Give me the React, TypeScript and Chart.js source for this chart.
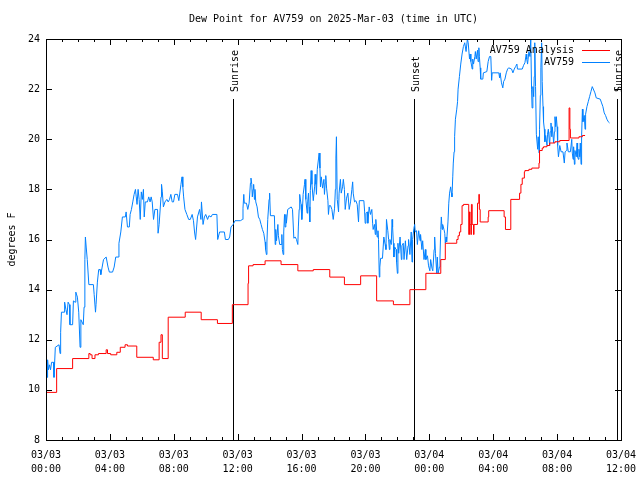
import React, { useEffect, useRef } from 'react';
import { Chart, registerables } from 'chart.js';

Chart.register(...registerables);

const TITLE = 'Dew Point for AV759 on 2025-Mar-03 (time in UTC)';
const Y_TITLE = 'degrees F';
const FONT = '"DejaVu Sans Mono", "Liberation Mono", monospace';

// x axis: minutes since 2025-03-03 00:00 UTC
const X_TICK_MINUTES = [0, 240, 480, 720, 960, 1200, 1440, 1680, 1920, 2160];
const X_TICK_DATES = ['03/03', '03/03', '03/03', '03/03', '03/03', '03/03', '03/04', '03/04', '03/04', '03/04'];
const X_TICK_TIMES = ['00:00', '04:00', '08:00', '12:00', '16:00', '20:00', '00:00', '04:00', '08:00', '12:00'];
const Y_TICKS = [8, 10, 12, 14, 16, 18, 20, 22, 24];

const SUN_EVENT_MINUTES = [702, 1382, 2144];
const SUN_EVENT_LABELS = ['Sunrise', 'Sunset', 'Sunrise'];

const SERIES_NAMES = ['AV759 Analysis', 'AV759'];
const SERIES_COLORS = ['#ff0000', '#0080ff'];

// "AV759 Analysis" (stepped): minute at which each level starts, and its value
const ANALYSIS_MIN = [
  0, 40, 100, 161, 166, 173, 184, 197, 226, 231, 243, 266, 279, 297, 306, 341, 403, 425, 432, 437,
  459, 523, 583, 644, 700, 759, 761, 778, 823, 883, 946, 1004, 1066, 1121, 1182, 1242, 1305, 1367, 1427, 1483,
  1500, 1543, 1548, 1553, 1558, 1563, 1568, 1588, 1591, 1593, 1596, 1598, 1601, 1606, 1608, 1621, 1626, 1628, 1631, 1661,
  1663, 1721, 1726, 1746, 1779, 1784, 1789, 1797, 1799, 1814, 1825, 1852, 1854, 1864, 1869, 1882, 1892, 1912, 1930, 1965,
  1968, 1970, 2002, 2015, 2025,
];
const ANALYSIS_VAL = [
  9.9, 10.85, 11.25, 11.45, 11.4, 11.25, 11.4, 11.45, 11.6, 11.45, 11.4, 11.5, 11.7, 11.8, 11.75, 11.3, 11.2, 11.9, 12.2, 11.25,
  12.9, 13.1, 12.8, 12.65, 13.4, 14.25, 14.95, 15.0, 15.15, 15.0, 14.75, 14.8, 14.5, 14.2, 14.55, 13.55, 13.4, 14.0, 14.65, 15.2,
  15.85, 16.0, 16.15, 16.3, 16.6, 17.35, 17.4, 16.2, 17.1, 16.6, 16.2, 17.4, 16.6, 16.2, 16.6, 17.45, 17.8, 17.2, 16.7, 16.9,
  17.15, 16.9, 16.4, 17.6, 17.85, 18.2, 18.45, 18.7, 18.75, 18.8, 18.85, 19.05, 19.55, 19.65, 19.7, 19.75, 19.85, 19.9, 19.95, 21.25,
  20.4, 20.05, 20.1, 20.15, 20.15,
];

// "AV759" observations: minute, value
const OBS_MIN = [
  0, 4, 6, 9, 13, 17, 21, 28, 30, 35, 49, 53, 55, 58, 68, 70, 75, 79, 83, 88,
  90, 100, 103, 109, 112, 118, 123, 128, 131, 140, 143, 146, 148, 151, 155, 161, 178, 181, 186, 188,
  193, 198, 203, 206, 211, 216, 226, 233, 238, 250, 256, 262, 271, 274, 281, 287, 298, 301, 306, 313,
  316, 321, 326, 331, 336, 339, 342, 346, 350, 354, 358, 362, 366,
  369, 373, 381, 386, 391, 395, 399, 404, 409, 419, 421, 425, 432, 434, 437, 441, 447, 454, 459, 464,
  469, 474, 479, 484, 494, 499, 507, 511, 514, 517, 522, 529, 536, 542, 549, 554, 558, 562, 569, 577,
  582, 584, 590, 595, 600, 607, 612, 620, 625, 642, 645, 652, 670, 674, 685, 690, 695, 703, 710, 730,
  738, 740, 743, 745, 753, 758, 763, 768, 770, 773, 775, 778, 780, 783, 785, 788, 793, 798, 803, 808,
  813, 818, 823, 825, 828, 830, 833, 838, 840, 843, 858, 861, 863, 866, 871, 873, 878, 883, 886, 888,
  891, 893, 896, 898, 901, 903, 908, 921, 926, 931, 936, 941, 946, 948, 951, 953, 958, 961, 963, 966,
  971, 973, 976, 981, 983, 986, 988, 991, 993, 996, 999, 1004, 1009, 1011, 1014, 1016, 1019, 1024, 1026, 1029,
  1031, 1034, 1039, 1044, 1046, 1049, 1051, 1054, 1059, 1061, 1064, 1069, 1074, 1079, 1084, 1087, 1089, 1091,
  1094, 1099, 1101, 1106, 1109, 1114, 1117, 1121, 1124, 1129, 1134, 1139, 1144, 1149, 1152, 1154, 1159, 1164, 1169, 1174,
  1177, 1194, 1197, 1199, 1202, 1207, 1209, 1214, 1219, 1224, 1227, 1229, 1234, 1237, 1239, 1244, 1247, 1249, 1252, 1254,
  1257, 1264, 1269, 1274, 1277, 1279, 1284, 1287, 1290, 1292, 1297, 1300, 1302, 1305, 1307, 1310, 1315, 1317, 1320, 1322,
  1325, 1330, 1335, 1337, 1342, 1345, 1350, 1355, 1360, 1362, 1367, 1372, 1375, 1377, 1382, 1385, 1387, 1392, 1395, 1400,
  1405, 1407, 1412, 1415, 1420, 1425, 1427, 1433, 1437, 1442, 1445, 1450,
  1453, 1458, 1460, 1463, 1468, 1470, 1473, 1478, 1480, 1483, 1485, 1488, 1490, 1495, 1498, 1500, 1503, 1505, 1510, 1513,
  1516, 1520, 1523, 1525, 1528, 1530, 1533, 1535, 1538, 1543, 1546, 1548, 1553, 1558, 1563, 1568, 1573, 1578, 1583, 1586,
  1591, 1593, 1596, 1601, 1603, 1606, 1611, 1613, 1616, 1621, 1623, 1626, 1628, 1631, 1633, 1641, 1643, 1656, 1661, 1666,
  1671, 1674, 1676, 1701, 1704, 1706, 1711, 1716, 1719, 1724, 1729, 1734, 1738, 1749, 1754, 1759, 1764, 1769, 1771, 1789,
  1794, 1799, 1804, 1806,
  1809, 1814, 1818, 1821, 1824, 1826, 1829, 1832, 1834, 1836, 1839, 1842, 1847, 1849, 1852, 1854, 1857, 1859, 1862, 1864,
  1867, 1869, 1872, 1874, 1877, 1882, 1884, 1887, 1892, 1894, 1897, 1900, 1902, 1907, 1910, 1912, 1915, 1917, 1920, 1922,
  1925, 1930, 1935, 1942, 1947, 1950, 1955, 1957, 1960, 1962, 1970, 1975, 1977, 1980, 1982, 1985, 1987, 1992, 1995, 1997,
  2000, 2002, 2005, 2007, 2010, 2012, 2015, 2017, 2020, 2022, 2025, 2027, 2032, 2037, 2042, 2047, 2052, 2062, 2067, 2082,
  2087, 2092, 2097, 2102, 2107, 2112, 2117,
];
const OBS_VAL = [
  11.4, 10.5, 11.2, 10.8, 11.0, 10.8, 11.1, 11.1, 10.5, 11.7, 11.8, 11.45, 12.3, 13.1, 13.1, 13.5, 13.2, 13.0, 13.5, 13.4,
  12.6, 12.6, 13.55, 13.5, 13.9, 13.7, 13.1, 11.7, 12.8, 12.6, 13.3, 15.2, 16.1, 15.7, 15.2, 14.2, 14.2, 13.8, 13.1, 13.4,
  14.3, 14.8, 14.8, 14.6, 14.9, 15.2, 15.3, 14.9, 14.7, 14.7, 14.9, 15.3, 15.3, 15.85, 16.3, 16.9, 16.9, 17.1, 16.5, 16.5,
  17.0, 17.2, 17.5, 17.8, 18.0, 17.7, 17.4, 18.0, 17.6, 16.8, 17.9, 17.6, 18.0,
  16.9, 17.5, 17.5, 17.7, 17.5, 17.7, 17.5, 16.8, 17.2, 17.2, 16.25, 16.6, 17.7, 18.2, 17.9, 17.3, 17.5, 17.6, 17.5, 17.6,
  17.8, 17.5, 17.5, 17.8, 17.8, 17.55, 18.2, 18.5, 18.1, 17.7, 17.2, 17.0, 16.8, 16.8, 17.0, 16.75, 16.3, 16.0, 16.9, 17.2,
  16.8, 17.5, 16.6, 16.9, 17.0, 16.8, 16.95, 16.9, 17.0, 17.0, 16.0, 16.3, 16.3, 16.0, 16.0, 16.1, 16.5, 16.6, 16.75, 16.75,
  16.8, 17.25, 17.8, 17.45, 17.45, 17.2, 17.45, 18.25, 18.45, 18.2, 17.7, 18.0, 18.2, 17.6, 18.0, 17.5, 17.3, 16.9, 16.8, 16.6,
  16.4, 16.25, 15.9, 15.6, 15.4, 15.9, 16.8, 17.6, 17.85, 16.95, 16.95, 15.8, 16.4, 15.95, 16.6, 16.15, 15.8, 15.8, 16.2, 15.6,
  15.4, 16.3, 17.0, 16.5, 17.0, 16.65, 17.2, 17.3, 17.2, 16.05, 16.1, 16.0, 15.8, 16.5, 17.2, 17.8, 17.4, 16.8, 17.1, 17.8,
  18.2, 18.4, 17.6, 17.05, 17.5, 17.85, 17.3, 16.7, 17.95, 18.75, 18.2, 17.55, 18.1, 18.6, 18.2, 17.8, 18.8, 19.25, 19.45, 18.85,
  18.1, 18.5, 18.05, 18.4, 17.8, 18.25, 18.55, 18.05, 17.55, 17.0, 17.35, 17.35, 17.2, 16.8, 17.25, 18.0, 19.25, 20.1,
  17.6, 17.1, 17.85, 18.4, 17.85, 18.1, 18.4, 18.0, 17.2, 17.65, 17.85, 17.2, 17.5, 18.0, 18.3, 17.85, 17.5, 17.55, 17.4, 16.7,
  17.55, 17.55, 17.1, 16.65, 17.05, 17.1, 16.65, 17.3, 17.0, 17.2, 16.65, 16.4, 16.6, 16.2, 16.8, 16.1, 16.35, 16.0, 14.5, 14.9,
  15.25, 15.25, 16.1, 15.8, 15.6, 16.8, 16.35, 16.0, 15.6, 16.0, 15.8, 16.8, 16.5, 15.85, 15.3, 15.7, 15.6, 15.1, 14.65, 15.85,
  15.45, 16.1, 15.2, 15.75, 15.85, 15.2, 15.95, 15.2, 15.75, 16.0, 15.4, 16.3, 15.1, 16.0, 16.45, 16.6, 16.3, 16.35, 15.8, 16.35,
  15.95, 16.2, 15.6, 15.95, 15.2, 15.6, 15.2, 15.35, 14.95, 14.75, 15.2, 14.85,
  14.75, 15.6, 16.1, 15.45, 14.65, 15.3, 14.65, 14.9, 15.3, 16.4, 16.9, 16.4, 16.6, 16.4, 16.25, 15.85, 16.1, 15.9, 16.7, 17.45,
  17.85, 18.1, 17.85, 17.7, 18.5, 19.05, 19.5, 20.1, 20.8, 21.2, 21.5, 22.0, 22.5, 23.0, 23.4, 23.7, 23.85, 23.5, 24.0, 23.85,
  23.2, 23.4, 23.1, 22.8, 23.2, 23.0, 23.3, 23.5, 23.2, 23.55, 23.1, 23.65, 23.3, 22.85, 22.4, 22.4, 22.65, 22.7, 23.1, 23.3,
  23.3, 22.35, 22.65, 22.65, 22.45, 22.65, 22.25, 22.05, 22.3, 22.4, 22.65, 22.8, 22.85, 22.8, 22.65, 22.8, 22.9, 23.0, 22.8, 22.8,
  22.95, 23.05, 23.4, 23.2,
  23.0, 23.5, 23.3, 24.0, 22.0, 21.25, 22.1, 21.7, 22.5, 23.85, 22.1, 20.2, 19.6, 20.1, 19.45, 20.4, 21.75, 22.85, 23.85, 22.3,
  21.3, 20.7, 20.4, 19.9, 20.15, 19.75, 20.2, 20.4, 19.75, 20.3, 20.65, 20.1, 20.5, 19.85, 20.3, 20.9, 20.5, 20.9, 20.5, 19.75,
  19.3, 19.75, 19.5, 19.5, 19.05, 19.5, 19.55, 19.85, 19.65, 19.5, 19.5, 20.0, 19.45, 19.2, 19.7, 19.0, 19.55, 19.3, 19.85, 19.3,
  19.2, 19.6, 19.3, 19.85, 19.0, 20.1, 21.2, 20.7, 20.85, 20.95, 20.4, 21.0, 21.3, 21.5, 21.7, 21.9, 22.1, 21.85, 21.65, 21.6,
  21.45, 21.3, 21.05, 20.95, 20.8, 20.7, 20.65,
];

const decorPlugin = {
  id: 'gnuplotDecor',
  beforeDatasetsDraw(chart: any) {
    const { ctx, chartArea: a, scales } = chart;
    const x = scales.x;
    ctx.save();
    ctx.strokeStyle = '#000';
    ctx.fillStyle = '#000';
    ctx.lineWidth = 1;
    ctx.font = `10px ${FONT}`;
    SUN_EVENT_MINUTES.forEach((m, i) => {
      const px = Math.round(x.getPixelForValue(m)) + 0.5;
      ctx.beginPath();
      ctx.moveTo(px, a.top + 60);
      ctx.lineTo(px, a.bottom);
      ctx.stroke();
      ctx.save();
      ctx.translate(px + 4, a.top + 53);
      ctx.rotate(-Math.PI / 2);
      ctx.textAlign = 'left';
      ctx.textBaseline = 'alphabetic';
      ctx.fillText(SUN_EVENT_LABELS[i], 0, 0);
      ctx.restore();
    });
    ctx.restore();
  },
  afterDatasetsDraw(chart: any) {
    const { ctx, chartArea: a, scales } = chart;
    const x = scales.x;
    const y = scales.y;
    ctx.save();
    ctx.strokeStyle = '#000';
    ctx.lineWidth = 1;
    // frame
    ctx.strokeRect(Math.round(a.left) + 0.5, Math.round(a.top) + 0.5, Math.round(a.right - a.left), Math.round(a.bottom - a.top));
    // inward ticks
    ctx.beginPath();
    for (let m = X_TICK_MINUTES[0]; m <= X_TICK_MINUTES[X_TICK_MINUTES.length - 1]; m += 60) {
      const px = Math.round(x.getPixelForValue(m)) + 0.5;
      const len = X_TICK_MINUTES.includes(m) ? 6 : 3;
      ctx.moveTo(px, a.bottom);
      ctx.lineTo(px, a.bottom - len);
      ctx.moveTo(px, a.top);
      ctx.lineTo(px, a.top + len);
    }
    Y_TICKS.forEach((v) => {
      const py = Math.round(y.getPixelForValue(v)) + 0.5;
      ctx.moveTo(a.left, py);
      ctx.lineTo(a.left + 6, py);
      ctx.moveTo(a.right, py);
      ctx.lineTo(a.right - 6, py);
    });
    ctx.stroke();

    // title and y axis title
    ctx.fillStyle = '#000';
    ctx.font = `10px ${FONT}`;
    ctx.textAlign = 'center';
    ctx.textBaseline = 'middle';
    ctx.fillText(TITLE, (a.left + a.right) / 2, 19);
    ctx.save();
    ctx.translate(12, (a.top + a.bottom) / 2);
    ctx.rotate(-Math.PI / 2);
    ctx.fillText(Y_TITLE, 0, 0);
    ctx.restore();

    // legend (inside, top right)
    SERIES_NAMES.forEach((name, i) => {
      const ly = a.top + 11 + i * 12;
      ctx.textAlign = 'right';
      ctx.textBaseline = 'middle';
      ctx.fillStyle = '#000';
      ctx.fillText(name, a.right - 47, ly);
      ctx.strokeStyle = SERIES_COLORS[i];
      ctx.beginPath();
      ctx.moveTo(a.right - 39, Math.round(ly) + 0.5);
      ctx.lineTo(a.right - 11, Math.round(ly) + 0.5);
      ctx.stroke();
    });
    ctx.restore();
  },
};

export default function App() {
  const canvasRef = useRef<HTMLCanvasElement | null>(null);

  useEffect(() => {
    const canvas = canvasRef.current;
    if (!canvas) return;
    const analysis = ANALYSIS_MIN.map((m, i) => ({ x: m, y: ANALYSIS_VAL[i] }));
    const obs = OBS_MIN.map((m, i) => ({ x: m, y: OBS_VAL[i] }));
    const tickFont = { family: FONT, size: 10, lineHeight: 1.4 };
    const chart = new Chart(canvas, {
      type: 'line',
      data: {
        datasets: [
          {
            label: SERIES_NAMES[0],
            data: analysis,
            borderColor: SERIES_COLORS[0],
            borderWidth: 1,
            stepped: true,
            pointRadius: 0,
            fill: false,
          },
          {
            label: SERIES_NAMES[1],
            data: obs,
            borderColor: SERIES_COLORS[1],
            borderWidth: 1,
            tension: 0,
            pointRadius: 0,
            fill: false,
          },
        ],
      },
      options: {
        responsive: false,
        animation: false,
        events: [],
        layout: { padding: { top: 39, right: 19, left: 0, bottom: 0 } },
        plugins: {
          legend: { display: false },
          title: { display: false },
          tooltip: { enabled: false },
        },
        scales: {
          x: {
            type: 'linear',
            min: X_TICK_MINUTES[0],
            max: X_TICK_MINUTES[X_TICK_MINUTES.length - 1],
            afterFit: (s: any) => {
              s.height = 40;
              s.paddingLeft = 0;
              s.paddingRight = 0;
            },
            afterBuildTicks: (s: any) => {
              s.ticks = X_TICK_MINUTES.map((v) => ({ value: v }));
            },
            grid: { display: false, drawTicks: false },
            border: { display: false },
            ticks: {
              autoSkip: false,
              maxRotation: 0,
              minRotation: 0,
              padding: 8,
              color: '#000',
              font: tickFont,
              callback: (_v: any, i: number) => [X_TICK_DATES[i], X_TICK_TIMES[i]],
            },
          },
          y: {
            min: Y_TICKS[0],
            max: Y_TICKS[Y_TICKS.length - 1],
            afterFit: (s: any) => {
              s.width = 46;
              s.paddingTop = 0;
              s.paddingBottom = 0;
            },
            afterBuildTicks: (s: any) => {
              s.ticks = Y_TICKS.map((v) => ({ value: v }));
            },
            grid: { display: false, drawTicks: false },
            border: { display: false },
            ticks: {
              padding: 6,
              color: '#000',
              font: { family: FONT, size: 10 },
              callback: (v: any) => String(v),
            },
          },
        },
      },
      plugins: [decorPlugin],
    });
    return () => chart.destroy();
  }, []);

  return (
    <div style={{ position: 'absolute', left: 0, top: 0, width: 640, height: 480, background: '#fff' }}>
      <canvas ref={canvasRef} width={640} height={480} style={{ width: 640, height: 480, display: 'block' }} />
    </div>
  );
}
